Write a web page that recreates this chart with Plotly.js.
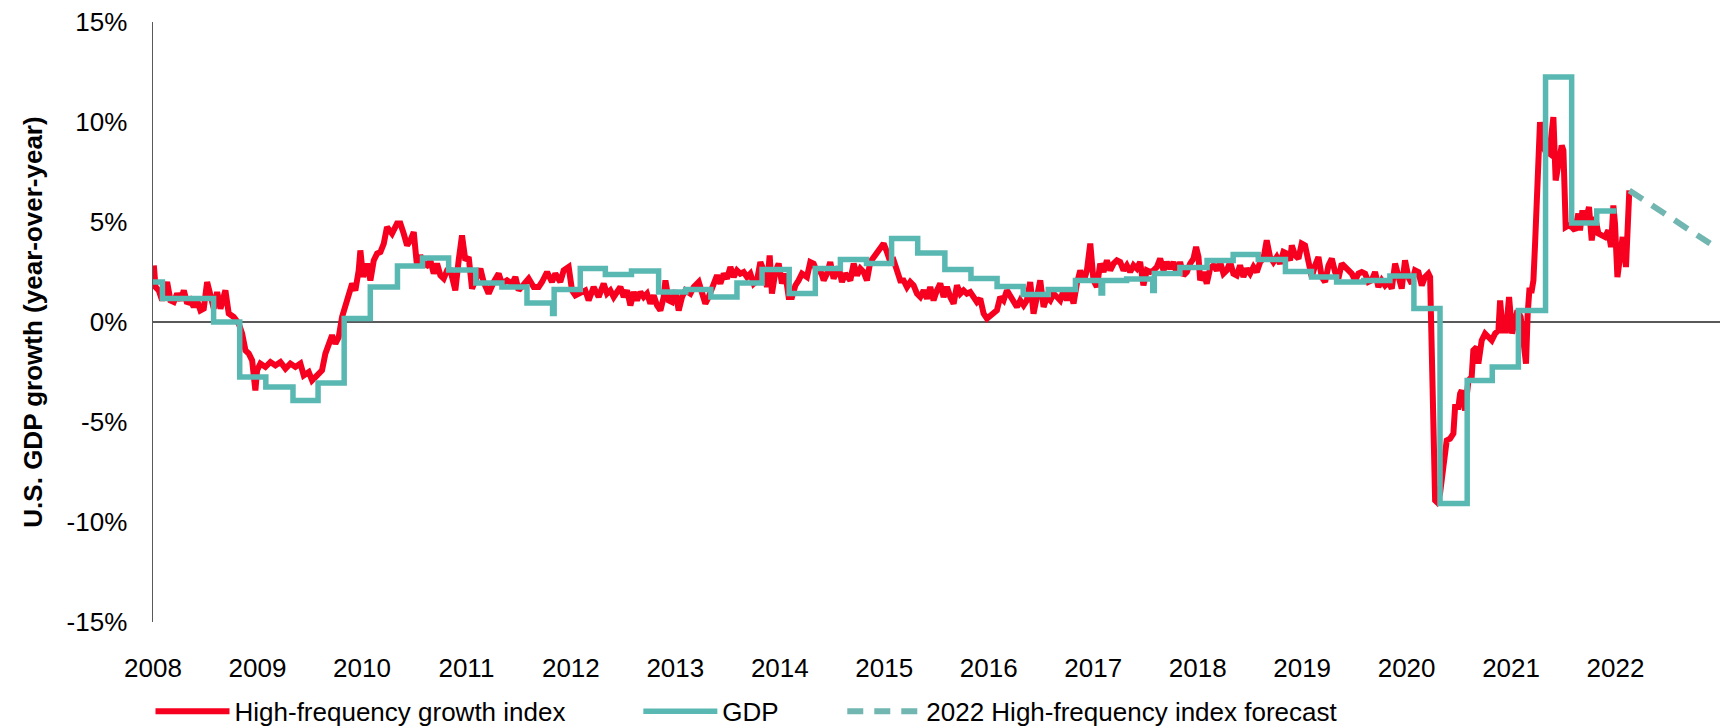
<!DOCTYPE html>
<html>
<head>
<meta charset="utf-8">
<script src="https://cdn.plot.ly/plotly-3.0.1.min.js"></script>
<style>
  html, body { margin: 0; padding: 0; background: #ffffff; }
  #chart { width: 1731px; height: 727px; }
</style>
</head>
<body>
<div id="chart"></div>
<script>
// ---------- DATA ----------
// High-frequency growth index (year-over-year %, decimal year)
const hfiYear = [
 2008.008,2008.024,2008.055,2008.087,2008.135,2008.167,2008.199,2008.231,2008.263,2008.295,2008.327,2008.358,2008.390,2008.422,2008.454,2008.486,2008.518,2008.550,2008.582,2008.614,2008.646,2008.693,2008.725,2008.773,2008.821,2008.853,2008.885,2008.917,2008.949,2008.980,2008.996,
 2009.028,2009.076,2009.124,2009.172,2009.220,2009.268,2009.315,2009.363,2009.411,2009.443,2009.491,2009.523,2009.571,2009.618,2009.650,2009.682,2009.714,2009.746,2009.778,2009.810,2009.842,2009.874,2009.906,2009.937,2009.969,2009.985,
 2010.011,2010.049,2010.081,2010.113,2010.145,2010.177,2010.209,2010.240,2010.288,2010.336,2010.368,2010.400,2010.432,2010.464,2010.496,2010.528,2010.559,2010.591,2010.623,2010.655,2010.687,2010.719,2010.751,2010.783,2010.815,2010.847,2010.894,2010.926,2010.958,2010.990,
 2011.022,2011.054,2011.086,2011.134,2011.165,2011.213,2011.261,2011.309,2011.341,2011.389,2011.437,2011.469,2011.500,2011.548,2011.596,2011.644,2011.692,2011.724,2011.772,2011.819,2011.851,2011.899,2011.931,2011.979,
 2012.011,2012.043,2012.091,2012.138,2012.170,2012.218,2012.266,2012.314,2012.346,2012.378,2012.410,2012.442,2012.474,2012.506,2012.538,2012.570,2012.602,2012.633,2012.665,2012.697,2012.729,2012.761,2012.793,2012.825,2012.857,2012.889,2012.905,2012.937,2012.968,
 2013.000,2013.032,2013.064,2013.096,2013.144,2013.176,2013.224,2013.256,2013.287,2013.319,2013.367,2013.399,2013.431,2013.463,2013.495,2013.527,2013.559,2013.590,2013.622,2013.654,2013.686,2013.718,2013.750,2013.782,2013.814,2013.846,2013.877,2013.903,2013.925,2013.957,2013.989,
 2014.021,2014.053,2014.085,2014.117,2014.149,2014.180,2014.212,2014.260,2014.292,2014.324,2014.356,2014.388,2014.420,2014.452,2014.483,2014.515,2014.563,2014.595,2014.627,2014.675,2014.707,2014.739,2014.771,2014.802,2014.834,2014.866,2014.898,2014.930,2014.962,2014.994,
 2015.026,2015.058,2015.090,2015.121,2015.153,2015.185,2015.217,2015.249,2015.281,2015.313,2015.345,2015.377,2015.409,2015.440,2015.472,2015.504,2015.536,2015.568,2015.600,2015.632,2015.664,2015.696,2015.728,2015.759,2015.791,2015.823,2015.855,2015.887,2015.919,2015.951,2015.983,
 2016.015,2016.046,2016.078,2016.110,2016.142,2016.174,2016.206,2016.238,2016.270,2016.302,2016.334,2016.365,2016.397,2016.429,2016.461,2016.493,2016.525,2016.557,2016.589,2016.621,2016.653,2016.684,2016.716,2016.748,2016.780,2016.812,2016.844,2016.876,2016.908,2016.940,2016.972,
 2017.003,2017.035,2017.067,2017.099,2017.131,2017.163,2017.195,2017.227,2017.258,2017.290,2017.322,2017.354,2017.386,2017.417,2017.449,2017.481,2017.513,2017.545,2017.577,2017.609,2017.641,2017.673,2017.705,2017.736,2017.768,2017.800,2017.832,2017.864,2017.896,2017.928,2017.960,2017.985,
 2018.008,2018.024,2018.055,2018.087,2018.119,2018.151,2018.183,2018.215,2018.247,2018.279,2018.311,2018.342,2018.374,2018.406,2018.438,2018.470,2018.502,2018.534,2018.566,2018.598,2018.630,2018.661,2018.693,2018.725,2018.757,2018.789,2018.821,2018.853,2018.885,2018.901,2018.933,2018.965,2018.996,
 2019.028,2019.060,2019.092,2019.124,2019.156,2019.188,2019.220,2019.252,2019.284,2019.315,2019.347,2019.379,2019.411,2019.443,2019.475,2019.507,2019.539,2019.571,2019.603,2019.634,2019.666,2019.698,2019.730,2019.762,2019.794,2019.826,2019.858,2019.890,2019.921,2019.953,2019.985,
 2020.017,2020.049,2020.081,2020.113,2020.145,2020.177,2020.209,2020.225,2020.241,2020.257,2020.273,2020.289,2020.320,2020.352,2020.384,2020.416,2020.448,2020.464,2020.496,2020.512,2020.528,2020.560,2020.592,2020.623,2020.639,2020.671,2020.687,2020.719,2020.751,2020.783,2020.815,2020.847,2020.879,2020.895,2020.920,2020.952,2020.981,
 2021.010,2021.038,2021.061,2021.092,2021.118,2021.143,2021.159,2021.175,2021.198,2021.214,2021.230,2021.245,2021.261,2021.277,2021.293,2021.325,2021.367,2021.405,2021.427,2021.453,2021.485,2021.501,2021.523,2021.549,2021.580,2021.612,2021.644,2021.660,2021.683,2021.708,2021.746,2021.772,2021.804,2021.836,2021.867,2021.899,2021.931,2021.957,2021.979,2021.995,
 2022.018,2022.043,2022.068,2022.100,2022.132
];
const hfiValue = [
 2.83,1.75,1.58,1.08,2.0,1.08,1.0,1.42,1.08,1.58,0.92,1.08,0.75,1.08,0.58,0.67,2.0,1.42,0.67,1.5,0.67,1.58,0.42,0.25,-0.08,-0.58,-1.42,-1.58,-1.92,-3.42,-2.42,
 -2.08,-2.25,-2.0,-2.17,-2.0,-2.33,-2.08,-2.25,-2.08,-2.67,-2.5,-2.92,-2.67,-2.42,-1.58,-1.08,-0.67,-1.08,-0.75,0.25,0.75,1.42,1.92,1.58,2.58,3.58,
 2.25,2.92,2.08,3.08,3.42,3.5,3.92,4.75,4.42,4.92,4.92,4.42,3.83,4.08,4.5,2.75,3.33,2.92,2.83,3.08,2.42,2.92,2.33,2.17,2.58,2.58,1.58,3.08,4.33,3.08,
 3.25,1.67,2.08,2.67,2.0,1.42,2.0,2.42,1.92,2.08,1.92,2.25,1.58,1.92,2.17,1.75,1.75,2.0,2.5,2.0,2.42,2.0,2.58,2.75,
 1.58,1.33,1.42,1.58,1.08,1.75,1.25,1.92,1.42,1.58,1.25,1.58,1.75,1.25,1.58,0.83,1.5,1.08,1.5,1.25,1.42,0.92,1.33,0.83,0.58,1.25,2.08,1.08,1.0,
 1.58,0.58,1.25,1.58,1.42,1.75,2.0,1.42,0.92,1.25,2.0,2.33,1.92,2.42,2.17,2.75,2.25,2.58,2.42,2.5,2.25,2.42,1.92,2.08,3.0,2.58,1.75,3.33,1.42,2.5,2.92,
 1.92,2.42,1.25,1.25,1.83,2.08,2.42,2.25,3.0,2.92,2.5,2.58,2.08,2.42,3.0,2.17,2.75,2.0,2.42,2.08,2.92,2.33,2.67,2.5,2.08,3.0,3.25,3.42,3.67,3.92,
 3.5,3.0,3.08,2.5,2.08,2.08,1.75,2.0,1.83,1.42,1.25,1.58,1.17,1.75,1.08,1.58,1.92,1.25,1.75,1.25,0.92,1.83,1.42,1.58,1.42,1.5,1.25,1.0,1.17,0.42,0.17,
 0.33,0.5,0.58,1.25,1.08,1.58,1.25,0.92,0.75,1.08,0.83,1.08,2.0,0.42,1.42,2.08,0.75,1.25,1.08,1.42,1.25,1.08,1.58,1.08,1.58,0.92,1.92,2.58,2.0,2.58,3.92,
 2.08,1.75,2.92,2.5,3.08,2.58,2.92,3.08,3.0,2.58,2.83,2.5,2.83,2.67,3.0,1.83,2.58,2.5,2.58,2.75,3.17,2.58,3.0,2.67,3.0,2.42,3.0,2.33,2.5,2.92,3.17,3.75,
 3.25,2.08,2.5,1.92,2.67,2.83,2.58,3.0,2.42,2.58,3.0,2.42,2.33,2.83,2.25,2.67,2.42,2.75,2.5,3.0,3.17,4.08,3.25,3.0,3.25,2.92,3.5,3.42,3.08,3.83,3.33,3.17,3.92,
 3.83,3.17,2.25,2.83,3.25,2.25,2.0,2.83,3.17,2.5,2.17,2.92,2.75,2.58,2.42,2.08,2.42,2.5,2.42,2.0,2.08,2.5,1.75,2.08,1.83,2.0,1.67,2.92,2.25,1.67,3.08,
 2.25,1.92,2.58,2.5,1.83,2.25,2.42,2.25,-3.08,-6.42,-8.92,-9.0,-8.58,-7.25,-5.92,-5.83,-5.58,-4.25,-4.25,-3.58,-3.42,-4.42,-2.92,-2.75,-1.42,-1.25,-2.08,-0.92,-0.58,-0.75,-0.92,-0.58,-0.42,1.08,-0.42,-0.42,1.25,
 -0.58,0.25,0.58,0.25,-0.92,-2.08,0.42,1.58,1.58,2.08,3.92,6.58,8.58,10.0,8.92,8.58,8.42,10.25,7.08,8.08,8.83,8.58,4.75,4.83,4.75,4.58,5.42,4.58,5.58,4.92,5.75,4.08,5.25,4.42,4.33,4.25,4.58,3.75,5.83,4.92,
 2.25,3.58,4.25,2.75,6.58
];

// GDP year-over-year % (step series: value holds from each start until the next)
const gdpStart = [
 2008.0,2008.09,2008.58,2008.83,2009.08,2009.34,2009.58,2009.83,2010.08,2010.34,2010.58,2010.83,
 2011.09,2011.34,2011.58,2011.825,2011.84,2012.09,2012.33,2012.58,2012.84,2013.10,2013.34,2013.59,
 2013.83,2014.09,2014.34,2014.58,2014.83,2015.07,2015.32,2015.58,2015.83,2016.08,2016.33,2016.57,
 2016.83,2017.075,2017.09,2017.32,2017.57,2017.585,2017.83,2018.09,2018.34,2018.58,2018.84,2019.09,
 2019.33,2019.59,2019.84,2020.07,2020.32,2020.58,2020.82,2021.07,2021.33,2021.58,2021.82,2022.01
];
const gdpValue = [
 2.0,1.17,0.0,-2.75,-3.25,-3.92,-3.05,0.17,1.75,2.8,3.2,2.6,
 1.95,1.75,0.95,0.42,1.62,2.67,2.38,2.55,1.5,1.62,1.25,1.95,
 2.62,1.42,2.67,3.13,2.92,4.17,3.45,2.62,2.17,1.78,1.38,1.62,
 2.08,1.45,2.08,2.15,1.58,2.42,2.72,3.08,3.37,3.13,2.53,2.25,
 2.0,2.08,2.3,0.67,-9.08,-2.92,-2.25,0.58,12.25,4.95,5.55,5.55
];

// 2022 high-frequency index forecast
const fcstYear  = [2022.132, 2022.905];
const fcstValue = [6.58, 3.92];

// Axis ticks
const xTickVals = [2008,2009,2010,2011,2012,2013,2014,2015,2016,2017,2018,2019,2020,2021,2022];
const xTickText = xTickVals.map(String);
const yTickVals = [-15,-10,-5,0,5,10,15];
const yTickText = ['-15%','-10%','-5%','0%','5%','10%','15%'];

// Series names
const names = ['High-frequency growth index', 'GDP', '2022 High-frequency index forecast'];

// ---------- STYLE ----------
const FONT = '"Liberation Sans", Arial, sans-serif';
const RED = '#F7001F';
const TEAL = '#5AB8B2';
const TEAL_DASH = '#72B6B2';
const AXIS = '#595959';

const plotL = 152.5, plotR = 1720, plotT = 21.7, plotB = 621.7;
const W = 1731, H = 727;
function px2paperX(px) { return (px - plotL) / (plotR - plotL); }
function px2paperY(py) { return (plotB - py) / (plotB - plotT); }

const traces = [
  { x: hfiYear, y: hfiValue, type: 'scatter', mode: 'lines', name: names[0],
    line: { color: RED, width: 6, shape: 'linear' }, legend: 'legend' },
  { x: gdpStart, y: gdpValue, type: 'scatter', mode: 'lines', name: names[1],
    line: { color: TEAL, width: 5.5, shape: 'hv' }, legend: 'legend2' },
  { x: fcstYear, y: fcstValue, type: 'scatter', mode: 'lines', name: names[2],
    line: { color: TEAL_DASH, width: 6, dash: '16px,11px' }, legend: 'legend3' }
];

const legendCommon = {
  orientation: 'h', yanchor: 'middle', xanchor: 'left',
  font: { family: FONT, size: 26, color: '#000000' },
  bgcolor: 'rgba(0,0,0,0)', borderwidth: 0, itemwidth: 74,
  itemclick: false, itemdoubleclick: false
};

const layout = {
  width: W, height: H,
  margin: { l: plotL, r: W - plotR, t: plotT, b: H - plotB, pad: 0, autoexpand: false },
  paper_bgcolor: '#ffffff', plot_bgcolor: '#ffffff',
  font: { family: FONT, size: 26, color: '#000000' },
  showlegend: true,
  xaxis: {
    range: [2008, 2023], tickmode: 'array', tickvals: xTickVals, ticktext: xTickText,
    showgrid: false, zeroline: false, showline: false, ticks: '',
    tickfont: { family: FONT, size: 26, color: '#000000' },
    ticklabelstandoff: 28, automargin: false, fixedrange: true
  },
  yaxis: {
    range: [-15, 15], tickmode: 'array', tickvals: yTickVals, ticktext: yTickText,
    showgrid: false, zeroline: true, zerolinecolor: AXIS, zerolinewidth: 1.5,
    showline: true, linecolor: AXIS, linewidth: 1.5, ticks: '',
    tickfont: { family: FONT, size: 26, color: '#000000' },
    ticklabelstandoff: 19, automargin: false,
    title: { text: '<b>U.S. GDP growth (year-over-year)</b>', standoff: 16,
             font: { family: FONT, size: 26, color: '#000000' } },
    fixedrange: true
  },
  legend:  Object.assign({}, legendCommon, { x: px2paperX(150), y: px2paperY(711) }),
  legend2: Object.assign({}, legendCommon, { x: px2paperX(638), y: px2paperY(711) }),
  legend3: Object.assign({}, legendCommon, { x: px2paperX(842), y: px2paperY(711) })
};

Plotly.newPlot('chart', traces, layout, { displayModeBar: false, staticPlot: true });
</script>
</body>
</html>
